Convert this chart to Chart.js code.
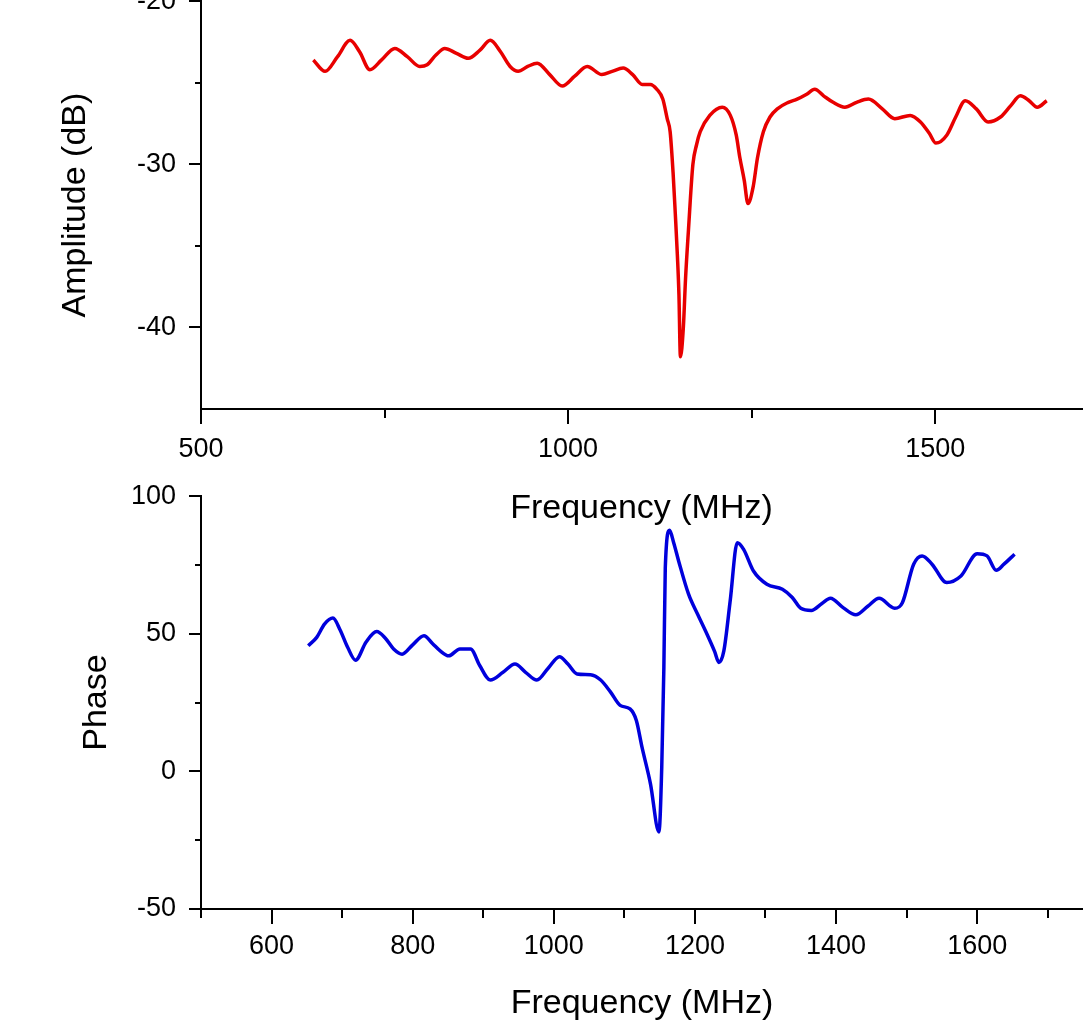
<!DOCTYPE html>
<html>
<head>
<meta charset="utf-8">
<title>Amplitude and phase vs frequency</title>
<script src="https://cdn.jsdelivr.net/npm/chart.js@4.4.1/dist/chart.umd.min.js"></script>
<style>
    html, body { margin: 0; padding: 0; background: #fff; overflow: hidden; }
    body { width: 1083px; height: 1028px; position: relative; }
    canvas { position: absolute; left: 0; }
    #amp { top: -40px; z-index: 2; }
    #phase { top: 455px; z-index: 1; }
</style>
</head>
<body>
<canvas id="amp" width="1083" height="569" style="width:1083px;height:569px"></canvas>
<canvas id="phase" width="1083" height="573" style="width:1083px;height:573px"></canvas>
<script>
// amplitude trace (top panel)
var ampFreq = [653, 669, 686, 703, 716, 730, 746, 764, 781, 798, 808, 820, 832, 848, 864, 880, 894, 908, 921, 932,
    945, 958, 975, 992, 1009, 1026, 1046, 1060, 1075, 1088, 1101, 1112, 1121, 1129, 1135, 1139, 1143, 1146, 1149, 1151,
    1153, 1157, 1160, 1164, 1170, 1175, 1180, 1193, 1210, 1221, 1229, 1234, 1240, 1245, 1252, 1258, 1266, 1275, 1285, 1300,
    1312, 1325, 1336, 1348, 1361, 1377, 1393, 1409, 1428, 1445, 1466, 1480, 1492, 1501, 1516, 1528, 1541, 1556, 1572, 1589,
    1603, 1616, 1628, 1639, 1652];
var ampDb = [-23.6, -24.3, -23.4, -22.4, -23.1, -24.2, -23.6, -22.9, -23.4, -24.0, -23.9, -23.3, -22.9, -23.2, -23.5, -23.0, -22.4, -23.1, -24.0, -24.3,
    -24.0, -23.8, -24.5, -25.2, -24.6, -24.0, -24.5, -24.3, -24.1, -24.5, -25.1, -25.1, -25.4, -26.0, -27.2, -28.0, -30.5, -33.0, -35.7, -38.0,
    -41.8, -40.0, -37.0, -34.0, -30.0, -28.8, -28.0, -27.0, -26.5, -27.0, -28.2, -29.6, -31.0, -32.4, -31.4, -29.6, -28.0, -27.1, -26.6, -26.2,
    -26.0, -25.7, -25.4, -25.8, -26.2, -26.5, -26.2, -26.0, -26.6, -27.2, -27.0, -27.4, -28.1, -28.7, -28.2, -27.1, -26.1, -26.6, -27.4, -27.1,
    -26.4, -25.8, -26.1, -26.5, -26.1];

// phase trace (bottom panel)
var phaseFreq = [652, 664, 675, 687, 697, 708, 719, 734, 749, 761, 773, 785, 800, 816, 828, 839, 851, 867, 882, 895,
    910, 928, 945, 960, 976, 992, 1008, 1020, 1033, 1052, 1066, 1080, 1094, 1108, 1117, 1125, 1137, 1149, 1153, 1156,
    1158, 1164, 1170, 1177, 1191, 1204, 1217, 1228, 1234, 1241, 1250, 1260, 1269, 1283, 1302, 1324, 1338, 1350, 1365, 1380,
    1392, 1410, 1428, 1445, 1461, 1483, 1494, 1510, 1522, 1536, 1557, 1577, 1600, 1614, 1627, 1638, 1653];
var phaseDeg = [45.7, 48.7, 53.5, 55.7, 51.5, 45.0, 40.4, 47.0, 50.8, 48.5, 44.5, 42.6, 46.0, 49.3, 46.5, 43.8, 42.0, 44.5, 44.5, 38.5,
    33.2, 36.0, 39.0, 36.0, 33.2, 37.5, 41.7, 39.0, 35.4, 35.1, 33.3, 29.0, 24.0, 22.7, 18.5, 8.8, -4.5, -22.0, 1.6, 37.8,
    74.0, 87.6, 83.0, 76.4, 64.4, 57.0, 49.9, 43.5, 39.6, 43.8, 62.0, 83.1, 80.7, 72.8, 68.0, 66.2, 63.2, 59.3, 58.5, 61.0,
    62.9, 59.5, 56.9, 60.0, 62.9, 59.3, 61.3, 75.3, 78.3, 75.3, 68.6, 71.0, 79.1, 78.3, 73.1, 75.3, 78.9];

// tick values
var ampXTicks = [500, 1000, 1500];
var ampXMinor = [750, 1250];
var ampYTicks = [-40, -30, -20];
var ampYMinor = [-35, -25];
var phaseXTicks = [600, 800, 1000, 1200, 1400, 1600];
var phaseXMinor = [500, 700, 900, 1100, 1300, 1500, 1700];
var phaseYTicks = [-50, 0, 50, 100];
var phaseYMinor = [-25, 25, 75];

var fontFamily = "'Liberation Sans', Arial, sans-serif";

function toPoints(xs, ys) {
    var pts = [];
    for (let i = 0; i < xs.length; i++) {
        pts.push({x: xs[i], y: ys[i]});
    }
    return pts;
};

// outward tick marks, long for labelled values and short for the others
const tickMarks = {
    id: 'tickMarks',
    afterDraw(chart, args, opts) {
        const ctx = chart.ctx;
        const area = chart.chartArea;
        const xs = chart.scales.x;
        const ys = chart.scales.y;
        ctx.save();
        ctx.strokeStyle = '#000';
        ctx.lineWidth = 2;
        ctx.beginPath();
        opts.xMajor.forEach(function(v) {
            var px = Math.round(xs.getPixelForValue(v));
            ctx.moveTo(px, area.bottom);
            ctx.lineTo(px, area.bottom + 15);
        });
        opts.xMinor.forEach(function(v) {
            var px = Math.round(xs.getPixelForValue(v));
            ctx.moveTo(px, area.bottom);
            ctx.lineTo(px, area.bottom + 9);
        });
        opts.yMajor.forEach(function(v) {
            var py = Math.round(ys.getPixelForValue(v));
            ctx.moveTo(area.left, py);
            ctx.lineTo(area.left - 12, py);
        });
        opts.yMinor.forEach(function(v) {
            var py = Math.round(ys.getPixelForValue(v));
            ctx.moveTo(area.left, py);
            ctx.lineTo(area.left - 6, py);
        });
        ctx.stroke();
        ctx.restore();
    }
};

function makeConfig(pts, color, xr, yr, ticks, titles, pads) {
    return {
        type: 'line',
        data: {
            datasets: [{
                data: pts,
                borderColor: color,
                borderWidth: 3.5,
                pointRadius: 0,
                fill: false,
                cubicInterpolationMode: 'monotone'
            }]
        },
        options: {
            responsive: false,
            animation: false,
            events: [],
            layout: {padding: pads.layout},
            plugins: {
                legend: {display: false},
                tooltip: {enabled: false},
                tickMarks: {xMajor: ticks.x, xMinor: ticks.xMinor, yMajor: ticks.y, yMinor: ticks.yMinor}
            },
            scales: {
                x: {
                    type: 'linear',
                    min: xr[0],
                    max: xr[1],
                    grid: {display: false, drawTicks: false},
                    border: {display: true, color: '#000', width: 2},
                    afterBuildTicks: function(scale) {
                        scale.ticks = ticks.x.map(v => ({value: v}));
                    },
                    afterFit: function(scale) { scale.height = pads.xHeight; },
                    ticks: {
                        color: '#000',
                        padding: pads.xTick,
                        maxRotation: 0,
                        font: {family: fontFamily, size: 27},
                        callback: v => String(v)
                    },
                    title: {
                        display: true,
                        text: titles[0],
                        color: '#000',
                        padding: {top: 0, bottom: pads.xTitle},
                        font: {family: fontFamily, size: 34}
                    }
                },
                y: {
                    type: 'linear',
                    min: yr[0],
                    max: yr[1],
                    grid: {display: false, drawTicks: false},
                    border: {display: true, color: '#000', width: 2},
                    afterBuildTicks: function(scale) {
                        scale.ticks = ticks.y.map(v => ({value: v}));
                    },
                    afterFit: function(scale) { scale.width = 201; },
                    ticks: {
                        color: '#000',
                        padding: 25,
                        font: {family: fontFamily, size: 27},
                        callback: v => String(v)
                    },
                    title: {
                        display: true,
                        text: titles[1],
                        color: '#000',
                        padding: {top: pads.yTitle, bottom: 0},
                        font: {family: fontFamily, size: 34}
                    }
                }
            }
        },
        plugins: [tickMarks]
    };
};

var amp_config = makeConfig(toPoints(ampFreq, ampDb), '#e80000', [500, 1700], [-45, -20],
    {x: ampXTicks, xMinor: ampXMinor, y: ampYTicks, yMinor: ampYMinor},
    ['Frequency (MHz)', 'Amplitude (dB)'],
    {layout: {top: 34, right: 1, left: 0, bottom: 0}, xHeight: 120, xTick: 24, xTitle: 0, yTitle: 55});

var phase_config = makeConfig(toPoints(phaseFreq, phaseDeg), '#0000dc', [500, 1750], [-50, 100],
    {x: phaseXTicks, xMinor: phaseXMinor, y: phaseYTicks, yMinor: phaseYMinor},
    ['Frequency (MHz)', 'Phase'],
    {layout: {top: 40, right: 0, left: 0, bottom: 0}, xHeight: 119, xTick: 21, xTitle: 4, yTitle: 76});

var amp_ctx = document.getElementById('amp').getContext('2d');
window.ampChart = new Chart(amp_ctx, amp_config);
var phase_ctx = document.getElementById('phase').getContext('2d');
window.phaseChart = new Chart(phase_ctx, phase_config);
</script>
</body>
</html>
